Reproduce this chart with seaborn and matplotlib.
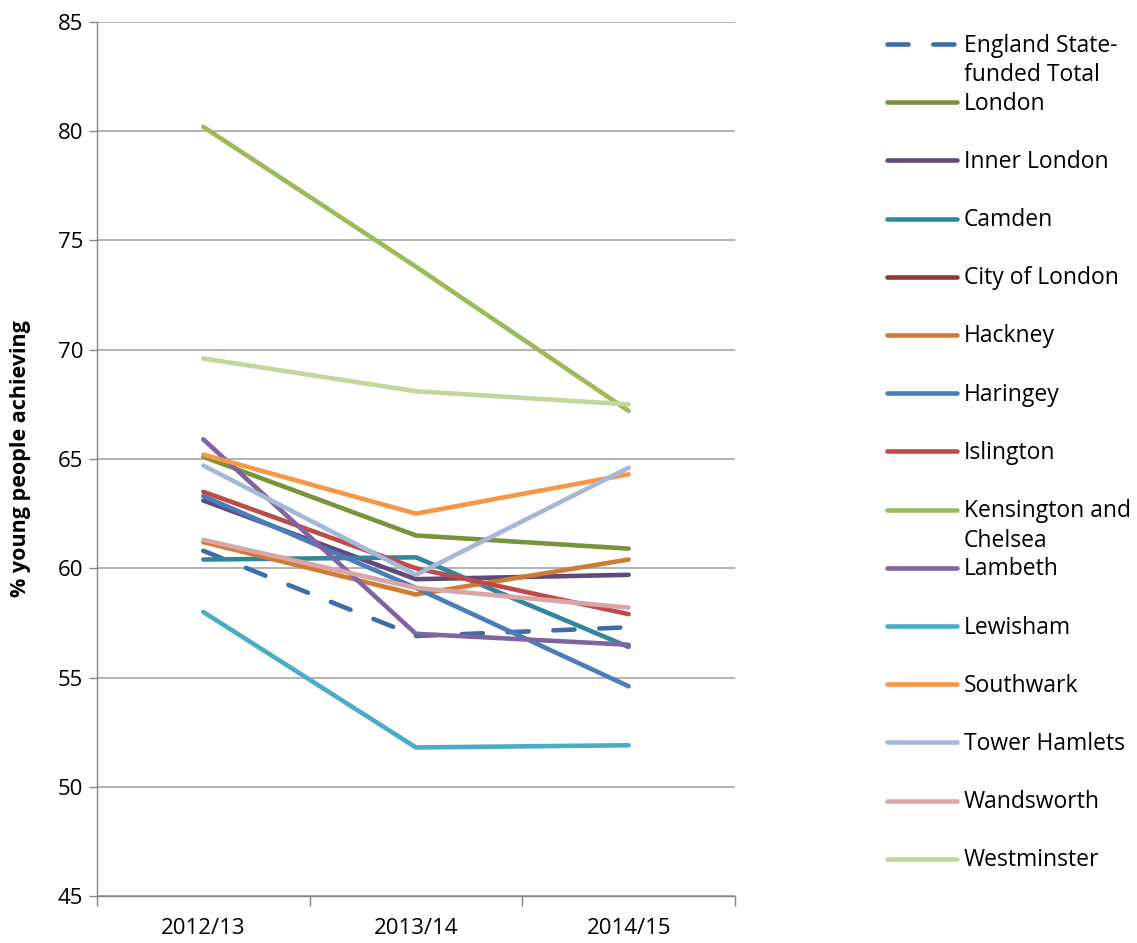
import seaborn as sns
import pandas as pd
import matplotlib.pyplot as plt
from matplotlib.lines import Line2D

# -------------------------------
# DATA
# -------------------------------
years = ["2012/13", "2013/14", "2014/15"]

england = [60.8, 56.9, 57.3]
london = [65.1, 61.5, 60.9]
inner_london = [63.1, 59.5, 59.7]
camden = [60.4, 60.5, 56.4]
city_of_london = [None, None, None]  # no published values
hackney = [61.2, 58.8, 60.4]
haringey = [63.3, 59.1, 54.6]
islington = [63.5, 60.0, 57.9]
kensington = [80.2, 73.8, 67.2]
lambeth = [65.9, 57.0, 56.5]
lewisham = [58.0, 51.8, 51.9]
southwark = [65.2, 62.5, 64.3]
tower_hamlets = [64.7, 59.7, 64.6]
wandsworth = [61.3, 59.1, 58.2]
westminster = [69.6, 68.1, 67.5]

names = ["England State-funded Total", "London", "Inner London", "Camden",
         "City of London", "Hackney", "Haringey", "Islington",
         "Kensington and Chelsea", "Lambeth", "Lewisham", "Southwark",
         "Tower Hamlets", "Wandsworth", "Westminster"]
legend_labels = ["England State-\nfunded Total", "London", "Inner London", "Camden",
                 "City of London", "Hackney", "Haringey", "Islington",
                 "Kensington and\nChelsea", "Lambeth", "Lewisham", "Southwark",
                 "Tower Hamlets", "Wandsworth", "Westminster"]
series = [england, london, inner_london, camden, city_of_london, hackney,
          haringey, islington, kensington, lambeth, lewisham, southwark,
          tower_hamlets, wandsworth, westminster]
colors = ["#3D6DA6", "#77933C", "#604A7B", "#31869B", "#953735", "#CF7A35",
          "#4A7EBB", "#BE4B48", "#9BBB59", "#8064A2", "#4BACC6", "#F79646",
          "#A6B8D8", "#D9A6A5", "#C3D69B"]

rows = []
for name, vals in zip(names, series):
    for yr, v in zip(years, vals):
        if v is not None:
            rows.append({"year": yr, "area": name, "value": v})
df = pd.DataFrame(rows)

palette = dict(zip(names, colors))
dash_map = {n: "" for n in names}
dash_map[names[0]] = (4.6, 5.4)

# -------------------------------
# PLOT
# -------------------------------
plt.rcParams["font.family"] = ["Open Sans", "DejaVu Sans"]
fig = plt.figure(figsize=(11.37, 9.43), dpi=100)
ax = fig.add_axes([0.0853, 0.0498, 0.5611, 0.9269])

present = [n for n in names if n in set(df["area"])]
sns.lineplot(data=df, x="year", y="value", hue="area", style="area",
             hue_order=present, style_order=present,
             palette=palette, dashes=dash_map, linewidth=3.3,
             estimator=None, sort=False, legend=False, ax=ax)
for ln in ax.lines:
    ln.set_solid_capstyle("round")
    ln.set_dash_capstyle("round")

ax.set_xlim(-0.5, 2.5)
ax.set_ylim(45, 85)
ax.set_yticks(range(45, 86, 5))
ax.yaxis.grid(True, color="#A6A6A6", linewidth=1.2)
ax.set_axisbelow(True)

ax.set_xticks([0, 1, 2])
ax.set_xticks([-0.5, 0.5, 1.5, 2.5], minor=True)
ax.tick_params(axis="x", which="major", length=0, labelsize=16, pad=16)
ax.tick_params(axis="x", which="minor", length=7, color="#868686", width=1)
ax.tick_params(axis="y", length=6, color="#868686", width=1, labelsize=16, pad=4)

for s in ["top", "right"]:
    ax.spines[s].set_visible(False)
for s in ["left", "bottom"]:
    ax.spines[s].set_color("#868686")
    ax.spines[s].set_linewidth(1)

ax.set_xlabel("")
ax.set_ylabel("% young people achieving", fontsize=15.5, fontweight="bold", labelpad=19)

# -------------------------------
# LEGEND (Excel style, fixed row spacing)
# -------------------------------
W, H = 1137, 943
for i, (lab, col) in enumerate(zip(legend_labels, colors)):
    y = 1 - (44 + i * 58.2) / H
    ls = (0, (4.6, 5.4)) if i == 0 else "-"
    fig.add_artist(Line2D([887 / W, 957 / W], [y, y], color=col, lw=3.3,
                          linestyle=ls, solid_capstyle="round",
                          dash_capstyle="round"))
    for j, part in enumerate(lab.split("\n")):
        fig.text(964 / W, y - (j * 29.5 + 1.5) / H, part, fontsize=16.5,
                 va="center", ha="left")

fig.savefig("out.png", dpi=100)
